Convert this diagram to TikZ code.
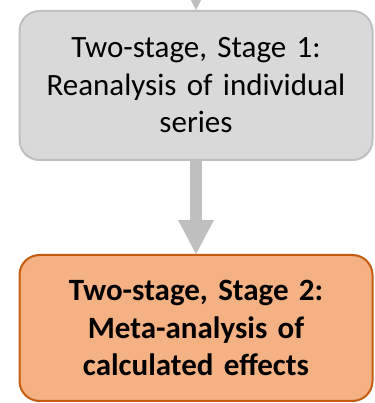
\documentclass[tikz,border=0pt]{standalone}
\usepackage{fontspec}
\setmainfont{Carlito}
\usepackage{tikz}
\usetikzlibrary{arrows.meta}

\definecolor{stepGray}{HTML}{D9D9D9}
\definecolor{stepGrayLine}{HTML}{BFBFBF}
\definecolor{stepOrange}{HTML}{F4B183}
\definecolor{stepOrangeLine}{HTML}{C55A11}
\definecolor{flowGray}{HTML}{BFBFBF}

\begin{document}
\begin{tikzpicture}[x=1pt,y=1pt,
    stagebox/.style={rounded corners=20pt, line width=2pt, align=center,
      minimum width=353pt, text width=340pt,
      font=\fontsize{31}{37.5}\selectfont},
    flow/.style={draw=flowGray, line width=12pt,
      -{Triangle[width=36pt,length=34pt,line width=0pt]}}]
                \useasboundingbox (0,0) rectangle (374,403);
                \clip (0,0) rectangle (374,403);
                \node (stageOne) at (196,317.5) [stagebox, fill=stepGray, draw=stepGrayLine, minimum height=149pt]
                  {Two-stage, Stage 1:\\Reanalysis of individual\\series};
                \node (stageTwo) at (196,75) [stagebox, fill=stepOrange, draw=stepOrangeLine, minimum height=146pt]
                  {\bfseries Two-stage, Stage 2:\\\bfseries Meta-analysis of\\\bfseries calculated effects};
                \coordinate (above) at (196,460);
                \draw[flow] (above) -- (stageOne);
                \draw[flow] (stageOne) -- (stageTwo);
              \end{tikzpicture}
\end{document}
